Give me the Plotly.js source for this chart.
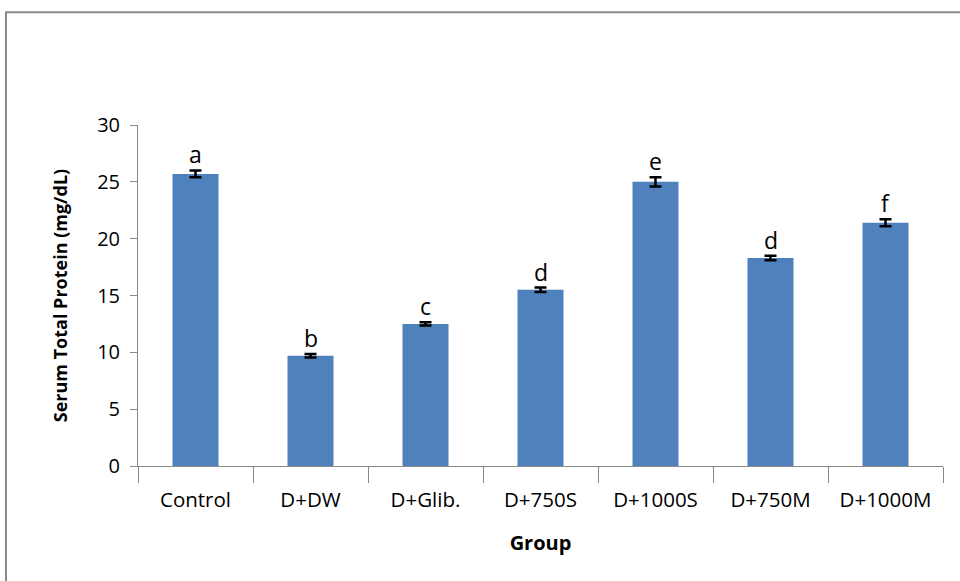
<!DOCTYPE html>
<html><head><meta charset="utf-8">
<script src="https://cdn.plot.ly/plotly-3.0.1.min.js"></script>
<style>html,body{margin:0;padding:0;background:#fff}#chart{width:960px;height:581px}</style>
</head><body><div id="chart"></div>
<script>
var groups = ["Control","D+DW","D+Glib.","D+750S","D+1000S","D+750M","D+1000M"];
var protein = [25.7, 9.7, 12.5, 15.5, 25.0, 18.3, 21.4];
var errors = [0.3, 0.15, 0.15, 0.2, 0.4, 0.2, 0.3];
var letters = ["a","b","c","d","e","d","f"];

var trace = {
  type: "bar", x: groups, y: protein,
  marker: {color: "#4F81BD"},
  error_y: {type: "data", array: errors, visible: true, color: "#000", thickness: 2.5, width: 6},
  width: 0.4, hoverinfo: "none"
};

var annotations = groups.map(function(g, i){
  return {x: g, y: protein[i] + errors[i], xref: "x", yref: "y", text: letters[i],
    showarrow: false, yanchor: "bottom", yshift: -2,
    font: {family: "Open Sans, sans-serif", size: 23, color: "#000"}};
});

var layout = {
  width: 960, height: 581,
  margin: {l: 138, r: 17, t: 125, b: 115},
  paper_bgcolor: "#fff", plot_bgcolor: "#fff",
  showlegend: false,
  font: {family: "Open Sans, sans-serif", color: "#000"},
  xaxis: {
    showline: true, linecolor: "#888", linewidth: 1,
    ticks: "outside", tickson: "boundaries", ticklen: 16, tickcolor: "#888",
    tickfont: {size: 20.5}, ticklabelstandoff: 15, showgrid: false, zeroline: false,
    title: {text: "<b>Group</b>", font: {size: 20}, standoff: 24}
  },
  yaxis: {
    range: [0, 30], dtick: 5, showline: true, linecolor: "#888", linewidth: 1,
    ticks: "outside", ticklen: 7, tickcolor: "#888", tickfont: {size: 20},
    ticklabelstandoff: 6,
    showgrid: false, zeroline: false,
    title: {text: "<b>Serum Total Protein (mg/dL)</b>", font: {size: 18}, standoff: 24}
  },
  annotations: annotations,
  shapes: [{type: "path", xref: "paper", yref: "paper",
    path: "M -0.164 -0.4 L -0.164 1.331 L 1.1 1.331",
    line: {color: "#888", width: 2}}]
};

Plotly.newPlot("chart", [trace], layout, {displayModeBar: false, staticPlot: true});
</script></body></html>
